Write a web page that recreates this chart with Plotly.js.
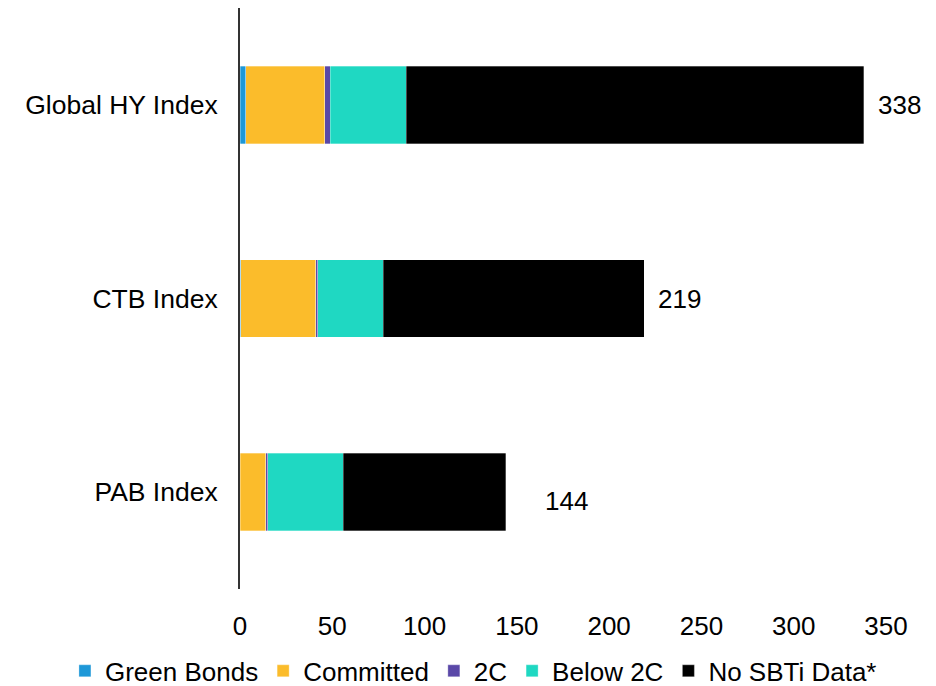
<!DOCTYPE html>
<html>
<head>
<meta charset="utf-8">
<script src="https://cdn.plot.ly/plotly-3.0.1.min.js"></script>
<style>
  html, body { margin: 0; padding: 0; background: #ffffff; }
  #chart { width: 936px; height: 686px; }
</style>
</head>
<body>
<div id="chart"></div>
<script>
// Index names, top to bottom
const indices = ["Global HY Index", "CTB Index", "PAB Index"];

// Issuer counts by SBTi status
const greenBonds = [3, 0.5, 0];
const committed  = [43, 40.5, 14];
const twoC       = [3, 1, 1];
const below2C    = [41, 35.5, 41];
const noSbti     = [248, 141.5, 88];

const tickVals   = [0, 50, 100, 150, 200, 250, 300, 350];

const seriesNames  = ["Green Bonds", "Committed", "2C", "Below 2C", "No SBTi Data*"];
const seriesColors = ["#1E98D8", "#FBBC2B", "#5A48A8", "#1FD8C2", "#000000"];
const seriesValues = [greenBonds, committed, twoC, below2C, noSbti];

const traces = seriesValues.map((vals, i) => ({
  type: "bar",
  orientation: "h",
  name: seriesNames[i],
  y: indices,
  x: vals,
  marker: { color: seriesColors[i], line: { color: "rgba(255,255,255,0.6)", width: 0.5 } },
  hoverinfo: "x+name"
}));

// Totals shown at the end of each bar
const totals = indices.map((_, k) => seriesValues.reduce((s, arr) => s + arr[k], 0));
const labelShift = [[12, 0], [12, 0], [37, -9]];
const annotations = totals.map((t, k) => ({
  x: t, y: indices[k], xref: "x", yref: "y",
  text: String(Math.round(t)),
  showarrow: false, xanchor: "left", yanchor: "middle",
  xshift: labelShift[k][0], yshift: labelShift[k][1],
  font: { family: "Liberation Sans, Arial, sans-serif", size: 26, color: "#000" }
}));

const layout = {
  width: 936, height: 686,
  margin: { l: 240, r: 50, t: 8, b: 97, autoexpand: false },
  paper_bgcolor: "#ffffff", plot_bgcolor: "#ffffff",
  barmode: "stack",
  bargap: 0.6,
  font: { family: "Liberation Sans, Arial, sans-serif", color: "#000" },
  xaxis: {
    range: [0, 350], tickvals: tickVals, ticktext: tickVals.map(String),
    showgrid: false, zeroline: false, showline: false, ticks: "",
    ticklabelstandoff: 19,
    tickfont: { size: 26, color: "#000" },
    fixedrange: true
  },
  yaxis: {
    type: "category", categoryorder: "array", categoryarray: indices,
    autorange: "reversed",
    showgrid: false, zeroline: false, showline: true, linecolor: "#333", linewidth: 2,
    ticks: "", ticklabelstandoff: 15,
    tickfont: { size: 26.5, color: "#000" },
    fixedrange: true
  },
  legend: {
    orientation: "h",
    x: -0.271, xanchor: "left", y: -0.141, yanchor: "middle",
    font: { size: 26, color: "#000" }, traceorder: "normal",
    itemwidth: 30
  },
  annotations: annotations,
  showlegend: true
};

Plotly.newPlot("chart", traces, layout, { displayModeBar: false, staticPlot: true });
</script>
</body>
</html>
